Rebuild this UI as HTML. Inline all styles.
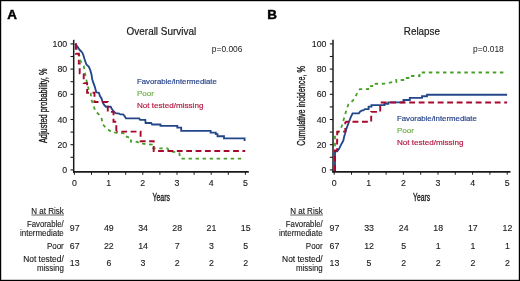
<!DOCTYPE html><html><head><meta charset="utf-8"><style>html,body{margin:0;padding:0;background:#fff;}svg{display:block;will-change:transform;}</style></head><body>
<svg width="520" height="281" viewBox="0 0 520 281" font-family='"Liberation Sans", sans-serif' fill="#1a1a1a">
<rect x="0" y="0" width="520" height="281" fill="#fff"/>
<rect x="0.6" y="0.6" width="518.8" height="279.8" fill="none" stroke="#000" stroke-width="1.2"/>
<text x="7.3" y="18.7" font-size="13.4" font-weight="bold" fill="#000" stroke="#000" stroke-width="0.45">A</text>
<text x="267.3" y="18.7" font-size="13.4" font-weight="bold" fill="#000" stroke="#000" stroke-width="0.45">B</text>
<text x="126.6" y="35.1" font-size="10.9" stroke="#1a1a1a" stroke-width="0.2" textLength="69.6" lengthAdjust="spacingAndGlyphs">Overall Survival</text>
<text x="403.8" y="34.9" font-size="10.9" stroke="#1a1a1a" stroke-width="0.2" textLength="36.2" lengthAdjust="spacingAndGlyphs">Relapse</text>
<text x="211.8" y="51.8" font-size="8.6" textLength="30.7" lengthAdjust="spacingAndGlyphs">p=0.006</text>
<text x="473.1" y="51.8" font-size="8.6" textLength="30.7" lengthAdjust="spacingAndGlyphs">p=0.018</text>
<text x="136.9" y="83.8" font-size="8.0" fill="#26428a" stroke="#26428a" stroke-width="0.18" textLength="80" lengthAdjust="spacingAndGlyphs">Favorable/intermediate</text>
<text x="136.9" y="96.2" font-size="8.1" fill="#6cb049" stroke="#6cb049" stroke-width="0.18">Poor</text>
<text x="136.9" y="108.0" font-size="8.1" fill="#b5173f" stroke="#b5173f" stroke-width="0.18" textLength="66.5" lengthAdjust="spacingAndGlyphs">Not tested/missing</text>
<text x="396.9" y="120.8" font-size="8.0" fill="#26428a" stroke="#26428a" stroke-width="0.18" textLength="80" lengthAdjust="spacingAndGlyphs">Favorable/intermediate</text>
<text x="396.9" y="133.2" font-size="8.1" fill="#6cb049" stroke="#6cb049" stroke-width="0.18">Poor</text>
<text x="396.9" y="145.0" font-size="8.1" fill="#b5173f" stroke="#b5173f" stroke-width="0.18" textLength="66.5" lengthAdjust="spacingAndGlyphs">Not tested/missing</text>
<line x1="73.7" y1="39.8" x2="73.7" y2="172.70000000000002" stroke="#1a1a1a" stroke-width="1.5"/>
<line x1="73.0" y1="171.9" x2="248.8" y2="171.9" stroke="#1a1a1a" stroke-width="1.8"/>
<line x1="70.5" y1="169.90" x2="73.7" y2="169.90" stroke="#1a1a1a" stroke-width="1.1"/>
<line x1="70.5" y1="157.30" x2="73.7" y2="157.30" stroke="#1a1a1a" stroke-width="1.1"/>
<line x1="70.5" y1="144.70" x2="73.7" y2="144.70" stroke="#1a1a1a" stroke-width="1.1"/>
<line x1="70.5" y1="132.10" x2="73.7" y2="132.10" stroke="#1a1a1a" stroke-width="1.1"/>
<line x1="70.5" y1="119.50" x2="73.7" y2="119.50" stroke="#1a1a1a" stroke-width="1.1"/>
<line x1="70.5" y1="106.90" x2="73.7" y2="106.90" stroke="#1a1a1a" stroke-width="1.1"/>
<line x1="70.5" y1="94.30" x2="73.7" y2="94.30" stroke="#1a1a1a" stroke-width="1.1"/>
<line x1="70.5" y1="81.70" x2="73.7" y2="81.70" stroke="#1a1a1a" stroke-width="1.1"/>
<line x1="70.5" y1="69.10" x2="73.7" y2="69.10" stroke="#1a1a1a" stroke-width="1.1"/>
<line x1="70.5" y1="56.50" x2="73.7" y2="56.50" stroke="#1a1a1a" stroke-width="1.1"/>
<line x1="70.5" y1="43.90" x2="73.7" y2="43.90" stroke="#1a1a1a" stroke-width="1.1"/>
<line x1="74.40" y1="171.9" x2="74.40" y2="174.8" stroke="#1a1a1a" stroke-width="1.0"/>
<line x1="91.50" y1="171.9" x2="91.50" y2="174.8" stroke="#1a1a1a" stroke-width="1.0"/>
<line x1="108.60" y1="171.9" x2="108.60" y2="174.8" stroke="#1a1a1a" stroke-width="1.0"/>
<line x1="125.70" y1="171.9" x2="125.70" y2="174.8" stroke="#1a1a1a" stroke-width="1.0"/>
<line x1="142.80" y1="171.9" x2="142.80" y2="174.8" stroke="#1a1a1a" stroke-width="1.0"/>
<line x1="159.90" y1="171.9" x2="159.90" y2="174.8" stroke="#1a1a1a" stroke-width="1.0"/>
<line x1="177.00" y1="171.9" x2="177.00" y2="174.8" stroke="#1a1a1a" stroke-width="1.0"/>
<line x1="194.10" y1="171.9" x2="194.10" y2="174.8" stroke="#1a1a1a" stroke-width="1.0"/>
<line x1="211.20" y1="171.9" x2="211.20" y2="174.8" stroke="#1a1a1a" stroke-width="1.0"/>
<line x1="228.30" y1="171.9" x2="228.30" y2="174.8" stroke="#1a1a1a" stroke-width="1.0"/>
<line x1="245.40" y1="171.9" x2="245.40" y2="174.8" stroke="#1a1a1a" stroke-width="1.0"/>
<text x="67.2" y="172.90" text-anchor="end" font-size="8.8" stroke="#1a1a1a" stroke-width="0.12">0</text>
<text x="67.2" y="147.70" text-anchor="end" font-size="8.8" stroke="#1a1a1a" stroke-width="0.12">20</text>
<text x="67.2" y="122.50" text-anchor="end" font-size="8.8" stroke="#1a1a1a" stroke-width="0.12">40</text>
<text x="67.2" y="97.30" text-anchor="end" font-size="8.8" stroke="#1a1a1a" stroke-width="0.12">60</text>
<text x="67.2" y="72.10" text-anchor="end" font-size="8.8" stroke="#1a1a1a" stroke-width="0.12">80</text>
<text x="67.2" y="46.90" text-anchor="end" font-size="8.8" stroke="#1a1a1a" stroke-width="0.12">100</text>
<text x="74.40" y="186.4" text-anchor="middle" font-size="8.8" stroke="#1a1a1a" stroke-width="0.12">0</text>
<text x="108.60" y="186.4" text-anchor="middle" font-size="8.8" stroke="#1a1a1a" stroke-width="0.12">1</text>
<text x="142.80" y="186.4" text-anchor="middle" font-size="8.8" stroke="#1a1a1a" stroke-width="0.12">2</text>
<text x="177.00" y="186.4" text-anchor="middle" font-size="8.8" stroke="#1a1a1a" stroke-width="0.12">3</text>
<text x="211.20" y="186.4" text-anchor="middle" font-size="8.8" stroke="#1a1a1a" stroke-width="0.12">4</text>
<text x="245.40" y="186.4" text-anchor="middle" font-size="8.8" stroke="#1a1a1a" stroke-width="0.12">5</text>
<line x1="333.0" y1="39.8" x2="333.0" y2="172.60000000000002" stroke="#1a1a1a" stroke-width="1.5"/>
<line x1="332.3" y1="171.8" x2="510.5" y2="171.8" stroke="#1a1a1a" stroke-width="1.8"/>
<line x1="329.8" y1="169.90" x2="333.0" y2="169.90" stroke="#1a1a1a" stroke-width="1.1"/>
<line x1="329.8" y1="157.30" x2="333.0" y2="157.30" stroke="#1a1a1a" stroke-width="1.1"/>
<line x1="329.8" y1="144.70" x2="333.0" y2="144.70" stroke="#1a1a1a" stroke-width="1.1"/>
<line x1="329.8" y1="132.10" x2="333.0" y2="132.10" stroke="#1a1a1a" stroke-width="1.1"/>
<line x1="329.8" y1="119.50" x2="333.0" y2="119.50" stroke="#1a1a1a" stroke-width="1.1"/>
<line x1="329.8" y1="106.90" x2="333.0" y2="106.90" stroke="#1a1a1a" stroke-width="1.1"/>
<line x1="329.8" y1="94.30" x2="333.0" y2="94.30" stroke="#1a1a1a" stroke-width="1.1"/>
<line x1="329.8" y1="81.70" x2="333.0" y2="81.70" stroke="#1a1a1a" stroke-width="1.1"/>
<line x1="329.8" y1="69.10" x2="333.0" y2="69.10" stroke="#1a1a1a" stroke-width="1.1"/>
<line x1="329.8" y1="56.50" x2="333.0" y2="56.50" stroke="#1a1a1a" stroke-width="1.1"/>
<line x1="329.8" y1="43.90" x2="333.0" y2="43.90" stroke="#1a1a1a" stroke-width="1.1"/>
<line x1="334.20" y1="171.8" x2="334.20" y2="174.70000000000002" stroke="#1a1a1a" stroke-width="1.0"/>
<line x1="351.50" y1="171.8" x2="351.50" y2="174.70000000000002" stroke="#1a1a1a" stroke-width="1.0"/>
<line x1="368.80" y1="171.8" x2="368.80" y2="174.70000000000002" stroke="#1a1a1a" stroke-width="1.0"/>
<line x1="386.10" y1="171.8" x2="386.10" y2="174.70000000000002" stroke="#1a1a1a" stroke-width="1.0"/>
<line x1="403.40" y1="171.8" x2="403.40" y2="174.70000000000002" stroke="#1a1a1a" stroke-width="1.0"/>
<line x1="420.70" y1="171.8" x2="420.70" y2="174.70000000000002" stroke="#1a1a1a" stroke-width="1.0"/>
<line x1="438.00" y1="171.8" x2="438.00" y2="174.70000000000002" stroke="#1a1a1a" stroke-width="1.0"/>
<line x1="455.30" y1="171.8" x2="455.30" y2="174.70000000000002" stroke="#1a1a1a" stroke-width="1.0"/>
<line x1="472.60" y1="171.8" x2="472.60" y2="174.70000000000002" stroke="#1a1a1a" stroke-width="1.0"/>
<line x1="489.90" y1="171.8" x2="489.90" y2="174.70000000000002" stroke="#1a1a1a" stroke-width="1.0"/>
<line x1="507.20" y1="171.8" x2="507.20" y2="174.70000000000002" stroke="#1a1a1a" stroke-width="1.0"/>
<text x="326.5" y="172.90" text-anchor="end" font-size="8.8" stroke="#1a1a1a" stroke-width="0.12">0</text>
<text x="326.5" y="147.70" text-anchor="end" font-size="8.8" stroke="#1a1a1a" stroke-width="0.12">20</text>
<text x="326.5" y="122.50" text-anchor="end" font-size="8.8" stroke="#1a1a1a" stroke-width="0.12">40</text>
<text x="326.5" y="97.30" text-anchor="end" font-size="8.8" stroke="#1a1a1a" stroke-width="0.12">60</text>
<text x="326.5" y="72.10" text-anchor="end" font-size="8.8" stroke="#1a1a1a" stroke-width="0.12">80</text>
<text x="326.5" y="46.90" text-anchor="end" font-size="8.8" stroke="#1a1a1a" stroke-width="0.12">100</text>
<text x="334.20" y="186.4" text-anchor="middle" font-size="8.8" stroke="#1a1a1a" stroke-width="0.12">0</text>
<text x="368.80" y="186.4" text-anchor="middle" font-size="8.8" stroke="#1a1a1a" stroke-width="0.12">1</text>
<text x="403.40" y="186.4" text-anchor="middle" font-size="8.8" stroke="#1a1a1a" stroke-width="0.12">2</text>
<text x="438.00" y="186.4" text-anchor="middle" font-size="8.8" stroke="#1a1a1a" stroke-width="0.12">3</text>
<text x="472.60" y="186.4" text-anchor="middle" font-size="8.8" stroke="#1a1a1a" stroke-width="0.12">4</text>
<text x="507.20" y="186.4" text-anchor="middle" font-size="8.8" stroke="#1a1a1a" stroke-width="0.12">5</text>
<text transform="translate(47.1,143.1) rotate(-90)" font-size="10.6" stroke="#1a1a1a" stroke-width="0.35" textLength="74.6" lengthAdjust="spacingAndGlyphs">Adjusted probability, %</text>
<text transform="translate(305.2,145.8) rotate(-90)" font-size="10.6" stroke="#1a1a1a" stroke-width="0.35" textLength="79.8" lengthAdjust="spacingAndGlyphs">Cumulative incidence, %</text>
<text x="152.5" y="200.8" font-size="10.6" stroke="#1a1a1a" stroke-width="0.35" textLength="17.5" lengthAdjust="spacingAndGlyphs">Years</text>
<text x="413.1" y="200.8" font-size="10.6" stroke="#1a1a1a" stroke-width="0.35" textLength="17.1" lengthAdjust="spacingAndGlyphs">Years</text>
<text x="63.8" y="213.9" font-size="8.2" stroke="#1a1a1a" stroke-width="0.12" text-anchor="end" textLength="32.5" lengthAdjust="spacingAndGlyphs">N at Risk</text>
<line x1="31.4" y1="215.0" x2="64.0" y2="215.0" stroke="#1a1a1a" stroke-width="0.7"/>
<text x="63.8" y="226.6" font-size="8.2" stroke="#1a1a1a" stroke-width="0.12" text-anchor="end" textLength="36.9" lengthAdjust="spacingAndGlyphs">Favorable/</text>
<text x="63.8" y="235.6" font-size="8.2" stroke="#1a1a1a" stroke-width="0.12" text-anchor="end" textLength="43.8" lengthAdjust="spacingAndGlyphs">intermediate</text>
<text x="63.8" y="248.8" font-size="8.2" stroke="#1a1a1a" stroke-width="0.12" text-anchor="end" textLength="16.9" lengthAdjust="spacingAndGlyphs">Poor</text>
<text x="63.8" y="261.6" font-size="8.2" stroke="#1a1a1a" stroke-width="0.12" text-anchor="end" textLength="40.6" lengthAdjust="spacingAndGlyphs">Not tested/</text>
<text x="63.8" y="270.5" font-size="8.2" stroke="#1a1a1a" stroke-width="0.12" text-anchor="end" textLength="26.8" lengthAdjust="spacingAndGlyphs">missing</text>
<text x="74.65" y="231.2" font-size="8.8" stroke="#1a1a1a" stroke-width="0.12" text-anchor="middle">97</text>
<text x="108.85" y="231.2" font-size="8.8" stroke="#1a1a1a" stroke-width="0.12" text-anchor="middle">49</text>
<text x="143.05" y="231.2" font-size="8.8" stroke="#1a1a1a" stroke-width="0.12" text-anchor="middle">34</text>
<text x="177.25" y="231.2" font-size="8.8" stroke="#1a1a1a" stroke-width="0.12" text-anchor="middle">28</text>
<text x="211.45" y="231.2" font-size="8.8" stroke="#1a1a1a" stroke-width="0.12" text-anchor="middle">21</text>
<text x="245.65" y="231.2" font-size="8.8" stroke="#1a1a1a" stroke-width="0.12" text-anchor="middle">15</text>
<text x="74.65" y="248.5" font-size="8.8" stroke="#1a1a1a" stroke-width="0.12" text-anchor="middle">67</text>
<text x="108.85" y="248.5" font-size="8.8" stroke="#1a1a1a" stroke-width="0.12" text-anchor="middle">22</text>
<text x="143.05" y="248.5" font-size="8.8" stroke="#1a1a1a" stroke-width="0.12" text-anchor="middle">14</text>
<text x="177.25" y="248.5" font-size="8.8" stroke="#1a1a1a" stroke-width="0.12" text-anchor="middle">7</text>
<text x="211.45" y="248.5" font-size="8.8" stroke="#1a1a1a" stroke-width="0.12" text-anchor="middle">3</text>
<text x="245.65" y="248.5" font-size="8.8" stroke="#1a1a1a" stroke-width="0.12" text-anchor="middle">5</text>
<text x="74.65" y="265.9" font-size="8.8" stroke="#1a1a1a" stroke-width="0.12" text-anchor="middle">13</text>
<text x="108.85" y="265.9" font-size="8.8" stroke="#1a1a1a" stroke-width="0.12" text-anchor="middle">6</text>
<text x="143.05" y="265.9" font-size="8.8" stroke="#1a1a1a" stroke-width="0.12" text-anchor="middle">3</text>
<text x="177.25" y="265.9" font-size="8.8" stroke="#1a1a1a" stroke-width="0.12" text-anchor="middle">2</text>
<text x="211.45" y="265.9" font-size="8.8" stroke="#1a1a1a" stroke-width="0.12" text-anchor="middle">2</text>
<text x="245.65" y="265.9" font-size="8.8" stroke="#1a1a1a" stroke-width="0.12" text-anchor="middle">2</text>
<text x="322.7" y="213.9" font-size="8.2" stroke="#1a1a1a" stroke-width="0.12" text-anchor="end" textLength="32.5" lengthAdjust="spacingAndGlyphs">N at Risk</text>
<line x1="290.3" y1="215.0" x2="322.9" y2="215.0" stroke="#1a1a1a" stroke-width="0.7"/>
<text x="322.7" y="226.6" font-size="8.2" stroke="#1a1a1a" stroke-width="0.12" text-anchor="end" textLength="36.9" lengthAdjust="spacingAndGlyphs">Favorable/</text>
<text x="322.7" y="235.6" font-size="8.2" stroke="#1a1a1a" stroke-width="0.12" text-anchor="end" textLength="43.8" lengthAdjust="spacingAndGlyphs">intermediate</text>
<text x="322.7" y="248.8" font-size="8.2" stroke="#1a1a1a" stroke-width="0.12" text-anchor="end" textLength="16.9" lengthAdjust="spacingAndGlyphs">Poor</text>
<text x="322.7" y="261.6" font-size="8.2" stroke="#1a1a1a" stroke-width="0.12" text-anchor="end" textLength="40.6" lengthAdjust="spacingAndGlyphs">Not tested/</text>
<text x="322.7" y="270.5" font-size="8.2" stroke="#1a1a1a" stroke-width="0.12" text-anchor="end" textLength="26.8" lengthAdjust="spacingAndGlyphs">missing</text>
<text x="334.45" y="231.2" font-size="8.8" stroke="#1a1a1a" stroke-width="0.12" text-anchor="middle">97</text>
<text x="369.05" y="231.2" font-size="8.8" stroke="#1a1a1a" stroke-width="0.12" text-anchor="middle">33</text>
<text x="403.65" y="231.2" font-size="8.8" stroke="#1a1a1a" stroke-width="0.12" text-anchor="middle">24</text>
<text x="438.25" y="231.2" font-size="8.8" stroke="#1a1a1a" stroke-width="0.12" text-anchor="middle">18</text>
<text x="472.85" y="231.2" font-size="8.8" stroke="#1a1a1a" stroke-width="0.12" text-anchor="middle">17</text>
<text x="507.45" y="231.2" font-size="8.8" stroke="#1a1a1a" stroke-width="0.12" text-anchor="middle">12</text>
<text x="334.45" y="248.5" font-size="8.8" stroke="#1a1a1a" stroke-width="0.12" text-anchor="middle">67</text>
<text x="369.05" y="248.5" font-size="8.8" stroke="#1a1a1a" stroke-width="0.12" text-anchor="middle">12</text>
<text x="403.65" y="248.5" font-size="8.8" stroke="#1a1a1a" stroke-width="0.12" text-anchor="middle">5</text>
<text x="438.25" y="248.5" font-size="8.8" stroke="#1a1a1a" stroke-width="0.12" text-anchor="middle">1</text>
<text x="472.85" y="248.5" font-size="8.8" stroke="#1a1a1a" stroke-width="0.12" text-anchor="middle">1</text>
<text x="507.45" y="248.5" font-size="8.8" stroke="#1a1a1a" stroke-width="0.12" text-anchor="middle">1</text>
<text x="334.45" y="265.9" font-size="8.8" stroke="#1a1a1a" stroke-width="0.12" text-anchor="middle">13</text>
<text x="369.05" y="265.9" font-size="8.8" stroke="#1a1a1a" stroke-width="0.12" text-anchor="middle">5</text>
<text x="403.65" y="265.9" font-size="8.8" stroke="#1a1a1a" stroke-width="0.12" text-anchor="middle">2</text>
<text x="438.25" y="265.9" font-size="8.8" stroke="#1a1a1a" stroke-width="0.12" text-anchor="middle">2</text>
<text x="472.85" y="265.9" font-size="8.8" stroke="#1a1a1a" stroke-width="0.12" text-anchor="middle">2</text>
<text x="507.45" y="265.9" font-size="8.8" stroke="#1a1a1a" stroke-width="0.12" text-anchor="middle">2</text>
<polyline points="74.6,44.2 76.5,48.0 79.2,55.0 80.6,61.3 83.7,65.8 84.6,71.1 85.9,77.8 88.5,88.9 90.7,93.3 91.3,99.5 93.6,105.5 95.2,111.0 98.5,114.0 101.6,118.5 102.7,124.2 105.8,127.8 109.8,130.9 112.9,130.9 115.1,132.7 124.9,133.4 125.6,136.2 128.5,137.3 130.9,137.6 130.9,141.6 137.5,141.8 139.5,143.6 142.5,143.7 148.7,144.3 151.8,144.5 151.8,148.3 167.5,148.3 169.0,150.8 172.0,151.5 177.0,152.4 179.3,153.4 180.5,158.6 241.5,158.6" fill="none" stroke="#48a02a" stroke-width="1.8" stroke-dasharray="3.4 3.63" stroke-dashoffset="4.470676593287587" stroke-linejoin="miter" stroke-linecap="butt"/>
<polyline points="74.8,43.9 75.5,44.3 77.9,47.3 79.5,49.8 81.0,51.2 82.3,52.7 83.4,55.2 84.5,59.0 86.3,64.3 88.9,66.9 90.5,70.7 91.6,74.9 92.1,78.7 93.2,82.4 94.8,86.7 96.3,92.3 98.9,92.8 100.0,96.0 101.6,98.7 102.7,102.4 104.3,105.1 105.9,106.7 110.7,106.7 111.7,108.8 113.3,111.0 115.5,113.1 119.2,113.6 120.3,114.4 123.0,114.4 124.3,115.7 126.0,118.4 139.2,118.4 140.1,119.8 145.3,119.8 145.6,123.0 151.2,123.0 152.1,124.5 160.5,124.5 160.5,125.9 177.3,125.9 177.3,127.6 181.2,127.6 181.2,130.8 210.6,130.8 210.6,132.6 215.8,132.6 215.8,134.1 217.5,134.1 217.5,136.2 224.0,136.2 224.0,138.4 244.6,138.4 244.6,141.0" fill="none" stroke="#24478a" stroke-width="1.85" stroke-linejoin="miter" stroke-linecap="butt"/>
<polyline points="74.4,43.9 75.9,43.9 75.9,53.8 78.8,53.8 78.8,63.6 79.7,63.6 79.7,73.4 83.7,73.4 83.7,83.1 87.1,83.1 87.1,92.8 94.5,92.8 94.5,102.0 107.8,102.0 107.8,111.9 113.5,111.9 113.5,121.8 116.3,121.8 116.3,131.6" fill="none" stroke="#a8082c" stroke-width="1.9" stroke-dasharray="5.8 3.57" stroke-dashoffset="7.9" stroke-linejoin="miter" stroke-linecap="butt"/>
<polyline points="116.3,131.6 140.6,131.6 140.6,141.2 153.7,141.2 153.7,151.0 245.2,151.0" fill="none" stroke="#a8082c" stroke-width="1.9" stroke-dasharray="5.8 3.57" stroke-dashoffset="4.389999999999992" stroke-linejoin="miter" stroke-linecap="butt"/>
<polyline points="335.0,171.0 335.0,134.5 337.0,133.5 339.8,130.6 342.0,125.6 343.4,120.6 344.8,115.7 346.2,110.7 348.4,104.3 352.8,100.7 355.7,96.3 357.8,91.5 359.8,89.2 368.2,89.2 368.2,86.2 372.3,86.2 372.3,83.8 385.0,83.7 388.0,83.2 392.0,82.2 396.3,82.2 396.3,80.0 405.5,80.0 405.5,78.0 410.7,78.0 410.7,76.0 419.5,76.0 419.5,72.5 504.0,72.5" fill="none" stroke="#48a02a" stroke-width="1.8" stroke-dasharray="3.45 3.66" stroke-dashoffset="3.75505391030989" stroke-linejoin="miter" stroke-linecap="butt"/>
<polyline points="335.0,171.0 335.0,151.3 337.2,151.3 339.1,148.8 341.6,143.7 343.3,140.6 344.2,136.6 345.1,133.5 346.2,129.2 348.4,123.5 350.5,117.8 352.6,113.3 358.9,113.3 360.0,111.7 361.6,110.7 363.7,110.1 364.8,109.1 368.6,109.1 368.6,106.6 371.5,106.6 371.5,105.1 384.5,105.1 384.5,103.7 388.3,103.7 388.3,102.4 403.5,102.4 403.5,100.0 409.8,100.0 409.8,97.8 422.0,97.8 422.0,96.2 427.0,96.2 427.0,94.7 507.1,94.7" fill="none" stroke="#24478a" stroke-width="1.85" stroke-linejoin="miter" stroke-linecap="butt"/>
<polyline points="335.0,171.5 335.0,171.5 335.0,150.5 337.1,150.5 337.1,140.8 337.2,140.8 337.2,131.6 345.3,131.6 345.3,121.8" fill="none" stroke="#a8082c" stroke-width="1.9" stroke-dasharray="5.85 3.65" stroke-dashoffset="9.0" stroke-linejoin="miter" stroke-linecap="butt"/>
<polyline points="345.3,121.8 371.2,121.8 371.2,111.9 380.2,111.9 380.2,102.5 507.1,102.5" fill="none" stroke="#a8082c" stroke-width="1.9" stroke-dasharray="5.85 3.65" stroke-dashoffset="2.3000000000000114" stroke-linejoin="miter" stroke-linecap="butt"/>
</svg></body></html>
